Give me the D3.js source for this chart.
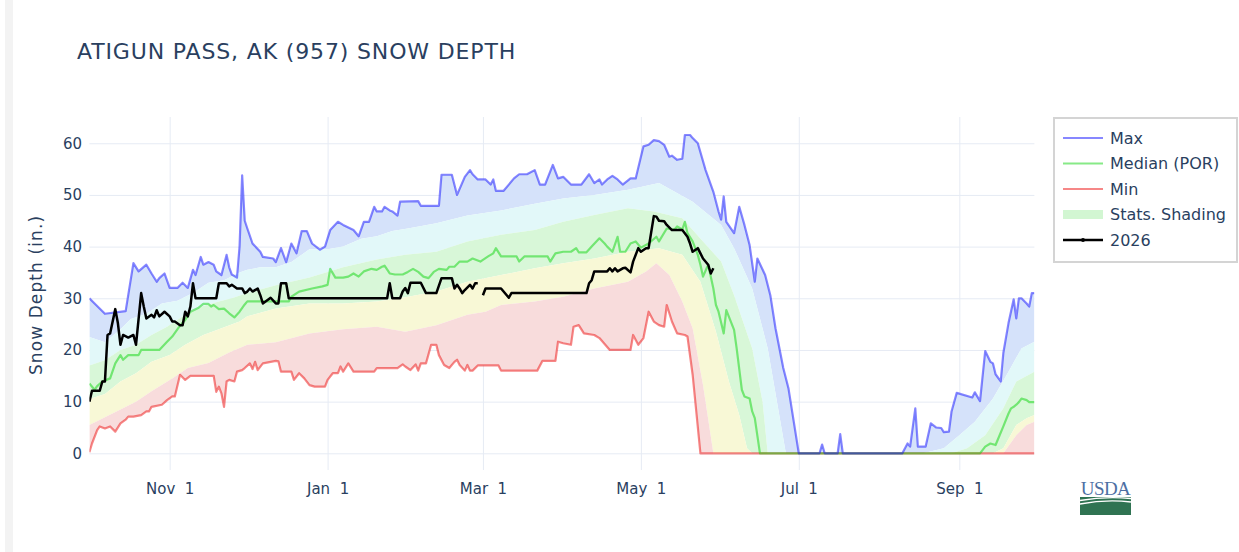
<!DOCTYPE html>
<html>
<head>
<meta charset="utf-8">
<script src="https://cdn.jsdelivr.net/npm/d3@7"></script>
<style>
  body { margin: 0; background: #fff; }
  svg { display: block; font-family: "DejaVu Sans", Verdana, sans-serif; }
  .tick text { white-space: pre; }
</style>
</head>
<body>
<svg id="chart" width="1239" height="552"></svg>
<script>
// [day of water year (0 = Oct 1), snow depth in inches]
var maxDepth = [[0,30],[2,29],[6,27],[14,27.5],[17,36.8],[19,35.2],[22,36.5],[24,34.8],[26,33.2],[27,33.9],[29,34.8],[31,32],[34,32],[36,33],[38,32],[40,35.5],[41,34.5],[43,38],[44,36.5],[46,37],[48,36.5],[49,35.2],[51,34.5],[53,38.4],[54,36],[55,34.6],[57,34],[58,40],[59,53.8],[60,45],[61,43.5],[63,40.6],[66,39],[67,38],[71,37.7],[72,37],[74,39.7],[76,37],[78,40.6],[80,38.7],[82,43],[84,43],[86,40.6],[89,39.4],[91,40],[93,43.2],[96,44.8],[98,44.2],[102,43.2],[104,42],[106,44.8],[108,44.8],[110,47.7],[111,46.8],[113,46.8],[114,47.7],[116,47],[117,46.8],[119,46],[120,48.7],[127,48.8],[128,47.9],[135,47.9],[136,53.9],[140,53.9],[142,50],[145,53.5],[147,54.8],[148,54],[150,53],[153,53],[155,52],[156,53],[157,50.8],[160,50.8],[162,52],[164,53.2],[166,54],[169,54],[172,54.8],[174,52],[176,52],[179,55.8],[181,53.2],[183,53.5],[186,52],[190,52],[193,54],[195,52.3],[197,53],[198,52],[200,53],[202,53.7],[204,53],[206,52],[209,53.2],[211,53.2],[214,59.4],[216,59.7],[218,60.6],[220,60.4],[222,59.7],[224,57.4],[225,57.6],[227,56.8],[229,57],[230,61.6],[232,61.6],[233,61],[235,60],[238,54.8],[241,50.6],[243,46.8],[244,45.2],[245,49.7],[246,44.8],[249,42.6],[251,47.7],[253,44.2],[255,40.3],[257,33.2],[258,37.7],[261,34.5],[263,30.6],[265,24.2],[268,16.5],[270,12.6],[274,0],[282,0],[283,1.7],[284,0],[289,0],[290,3.7],[291,0],[314,0],[316,1.9],[317,1.3],[319,8.7],[320,1.3],[323,1.3],[325,5.8],[327,5],[329,4.9],[330,4.1],[332,4.2],[333,8.1],[335,11.7],[341,10.8],[342,11.8],[344,10.1],[346,19.8],[348,17.7],[349,17.4],[350,15.3],[352,13.9],[353,19.4],[355,25.2],[357,29.8],[358,26.1],[359,30],[360,30],[362,29],[363,28.4],[364,31],[365,31]];

var pct90 = [[0,22.5],[6,21.5],[12,24],[16,26],[22,27],[28,29],[34,29.5],[40,31],[46,33],[52,33.5],[58,35],[61,35.5],[66,36],[72,36],[78,37],[85,39.5],[92,39.5],[98,40],[105,41.5],[111,42],[117,43],[123,43.5],[134,44.5],[146,46],[159,47],[172,48.3],[183,49.3],[195,50],[208,51],[220,52.3],[233,48.7],[244,44.2],[249,39.7],[256,31.9],[262,20.3],[266,8.7],[269,0],[322,0],[330,1],[336,3.5],[342,6.1],[349,10.6],[355,15.8],[360,20.3],[365,21.6]];

var pct70 = [[0,17],[6,18],[12,20],[18,21],[24,22.9],[30,24.5],[37,26.8],[44,28.5],[50,29.4],[55,30],[61,31],[72,32.5],[85,34],[98,36],[111,37.5],[122,38.4],[134,39],[146,41],[159,42.3],[172,43.2],[183,44.8],[195,46.1],[208,47.4],[218,46.8],[229,45.5],[237,41],[244,37.1],[249,30.6],[256,20.3],[260,10],[262,0],[333,0],[339,1],[346,3.5],[353,8.7],[358,13.9],[365,15.8]];

var medianDepth = [[0,13.5],[2,12.3],[3,13],[5,13.9],[8,14.5],[10,17.4],[12,19],[13,18.1],[15,19],[19,19],[20,20],[27,20],[30,21.6],[32,22.6],[35,24.7],[37,25.8],[39,27.4],[42,28.1],[44,28.9],[46,28.9],[47,28.4],[48,28.7],[50,27.9],[52,28],[54,27.1],[56,26.3],[58,27.4],[60,28.8],[61,29.4],[77,29.4],[78,30.3],[81,31.3],[86,31.9],[90,32.3],[92,32.6],[93,35.7],[95,34],[98,34],[100,34.2],[102,34.8],[104,34.2],[106,35.2],[109,35.7],[111,35.5],[113,36.1],[114,36.3],[116,34.8],[118,34.6],[121,34.6],[123,35.1],[125,35.7],[127,35.1],[129,34.2],[131,33.9],[133,35.1],[135,35.7],[138,35.5],[139,36.1],[141,36.1],[143,37.1],[146,37.1],[148,37.7],[151,37.1],[154,38.1],[156,38.7],[157,39.7],[159,38.1],[165,38.1],[166,37.1],[168,38.1],[177,38.1],[178,37.1],[180,38.7],[183,39],[186,39],[188,39.7],[189,38.9],[192,38.9],[194,40],[197,41.6],[199,40.6],[200,40],[202,39],[204,41.9],[205,39],[207,39],[209,40.6],[211,41],[213,39.8],[216,40.6],[219,41.9],[220,41],[223,43.5],[226,43.3],[227,43.9],[229,43.3],[230,44.8],[231,42.6],[233,41],[235,38.4],[236,36.5],[237,34.2],[239,36.5],[241,31.9],[242,28.7],[243,27.4],[245,23.2],[246,27.7],[249,23.9],[250,20.3],[252,12.3],[253,11],[255,10.6],[256,8.1],[257,6.8],[259,0],[344,0],[346,1.3],[348,1.9],[350,1.6],[353,5.2],[355,7.7],[356,8.7],[357,9],[358,9.4],[359,9.9],[360,10.6],[362,10.3],[363,9.9],[365,9.9]];

var pct30 = [[0,10.5],[6,11.5],[12,13.9],[18,15.5],[24,17.7],[31,19],[37,21],[44,22.9],[50,24],[58,25.5],[61,26.5],[72,28],[85,29],[98,29],[111,29.4],[122,30.2],[134,31.3],[146,33.2],[159,34.5],[172,35.8],[183,36.8],[195,37.7],[208,39],[220,39.7],[229,38.4],[236,33.2],[242,23.5],[247,13.9],[251,7.4],[254,1],[256,0],[349,0],[353,1],[358,5.5],[362,6.8],[365,7.4]];

var pct10 = [[0,5.5],[6,7],[12,8.5],[18,10],[24,12],[32,14.5],[38,16.5],[46,17.5],[54,19.5],[61,21],[72,21.5],[85,23.2],[98,24],[111,24.5],[122,23.5],[134,24.8],[146,26.8],[153,27.4],[159,28.7],[172,29.4],[183,30.3],[195,31.9],[208,33.2],[215,35.2],[219,36.8],[224,34.5],[229,29.4],[233,24.2],[237,13.2],[241,0],[353,0],[358,3.5],[362,5.5],[365,6.1]];

var minDepth = [[0,0.2],[1,1.9],[3,4.5],[4,5.2],[6,4.8],[8,5.2],[10,4.2],[12,5.8],[14,6.5],[15,7.1],[17,7.1],[20,7.4],[22,8.1],[23,8.1],[24,9],[28,9.4],[30,10.3],[32,11],[33,11],[35,15.2],[37,14.2],[39,15],[48,15],[49,11.9],[50,12.9],[51,11.6],[52,9],[53,13.9],[54,14.2],[56,13.9],[57,15.8],[59,16.1],[60,16.5],[62,17.4],[63,16.3],[64,17.7],[65,16.1],[67,17.4],[72,17.9],[73,17.8],[74,15.8],[78,15.8],[79,14.2],[81,15.5],[83,14.5],[85,13.2],[87,12.9],[91,12.9],[92,14.2],[94,15.5],[96,15.5],[97,16.8],[98,15.8],[100,17.4],[102,15.8],[110,15.8],[111,16.5],[119,16.5],[121,17.2],[122,16.8],[124,16.1],[126,17.2],[127,16],[128,17.4],[130,17.4],[132,21],[134,21],[135,19],[137,17.1],[139,16.5],[141,17.7],[142,18.1],[143,17.1],[145,16],[146,17.1],[147,16],[148,16],[150,17],[158,17],[159,16],[173,16],[175,17.9],[180,17.9],[181,21.6],[183,21.3],[186,21],[187,24.5],[189,24.8],[191,23.2],[195,22.9],[197,22.3],[201,20],[209,20],[210,22.9],[212,21],[214,22.3],[216,27.4],[218,25.5],[220,24.8],[222,24.5],[223,28.7],[225,25.5],[227,23.2],[230,22.9],[231,22.6],[233,15.2],[236,0],[365,0]];

// water year 2026; no Feb 29 that year (day 151), so the line breaks there
var depth2026 = [[0,10],[1,12.1],[4,12.1],[5,13.9],[6,13.9],[7,22.9],[8,23.2],[10,27.9],[11,25.2],[12,21],[13,22.9],[15,22.4],[17,22.9],[18,21],[20,31],[21,28.4],[22,26.1],[24,26.8],[25,26.3],[26,27.7],[27,26.5],[29,27.4],[31,26.5],[32,25.5],[33,25.5],[35,24.8],[36,24.8],[37,27.4],[38,26.5],[39,28.4],[40,32.9],[41,30],[49,30],[50,32.9],[53,32.9],[54,32.3],[55,32.6],[57,31.9],[59,31.9],[60,31],[61,31.3],[62,31.9],[63,31.3],[65,31.9],[66,30.6],[67,29],[70,30.1],[72,29],[73,29],[74,32.9],[76,32.9],[77,30],[115,30],[116,32.9],[117,30],[120,30],[121,31.3],[122,32],[123,31],[124,33],[128,33],[130,31],[134,31],[136,33.9],[140,33.9],[141,31.9],[142,32.6],[143,31.9],[144,31],[145,31.6],[147,32.6],[148,31.9],[149,32.9],[150,32.9],[151,null],[152,30.6],[153,31.9],[159,31.9],[162,30.1],[163,31],[192,31],[193,32.9],[194,33.5],[195,35.2],[200,35.2],[201,35.8],[202,35.2],[203,35.8],[204,35.2],[206,35.8],[207,35.9],[209,35],[210,37.1],[212,39.7],[213,39],[215,39.7],[216,39.7],[218,45.9],[219,45.8],[220,45],[222,44.9],[223,44.2],[225,43.2],[229,43.2],[231,41.9],[232,40.6],[233,39],[235,39.7],[237,37.7],[239,36.5],[240,34.8],[241,35.8]];

var depthTicks = [0, 10, 20, 30, 40, 50, 60];
var legendLabels = ['Max', 'Median (POR)', 'Min', 'Stats. Shading', '2026'];

var textColor = '#2a3f5f';
var gridColor = '#e6ebf4';

var svg = d3.select('#chart');
var wyStart = new Date(1999, 9, 1); // a leap water year, as the source chart uses
var plotL = 89.4, plotR = 1034.4, plotT = 117, plotB = 470;

var x = d3.scaleTime()
  .domain([wyStart, d3.timeDay.offset(wyStart, 365)])
  .range([plotL, plotR]);
var y = d3.scaleLinear().domain([-3.23, 65.08]).range([plotB, plotT]);

function px(p) { return x(d3.timeDay.offset(wyStart, p[0])); }
function py(p) { return y(p[1]); }

// left grey strip of the page
svg.append('rect').attr('x', 5).attr('y', 0).attr('width', 8).attr('height', 552).attr('fill', '#f3f3f3');

// title
svg.append('text')
  .attr('x', 77).attr('y', 59.3)
  .attr('fill', textColor)
  .style('font-size', '22px')
  .style('letter-spacing', '0.85px')
  .text('ATIGUN PASS, AK (957) SNOW DEPTH');

// grid + axes
var yAxis = d3.axisLeft(y).tickValues(depthTicks).tickSize(-(plotR - plotL)).tickPadding(7.4);
var gy = svg.append('g').attr('transform', 'translate(' + plotL + ',0)').call(yAxis);

var xAxis = d3.axisBottom(x)
  .ticks(d3.timeMonth.every(2))
  .tickFormat(d3.timeFormat('%b %e'))
  .tickSize(-(plotB - plotT))
  .tickPadding(13);
var gx = svg.append('g').attr('transform', 'translate(0,' + plotB + ')').call(xAxis);

[gx, gy].forEach(function(g) {
  g.select('.domain').remove();
  g.selectAll('.tick line').attr('stroke', gridColor).attr('stroke-width', 1);
  g.selectAll('.tick text')
    .attr('fill', textColor)
    .style('font-size', '15px')
    .style('font-family', '"DejaVu Sans", Verdana, sans-serif');
});

svg.append('text')
  .attr('transform', 'translate(41.5,295) rotate(-90)')
  .attr('text-anchor', 'middle')
  .attr('fill', textColor)
  .style('font-size', '17px')
  .style('letter-spacing', '1.1px')
  .text('Snow Depth (in.)');

// plot layer
svg.append('clipPath').attr('id', 'plotclip')
  .append('rect').attr('x', plotL).attr('y', plotT).attr('width', plotR - plotL).attr('height', plotB - plotT);
var plot = svg.append('g').attr('clip-path', 'url(#plotclip)');

function bandPath(upper, lower) {
  var pts = upper.map(function(p) { return [px(p), py(p)]; })
    .concat(lower.slice().reverse().map(function(p) { return [px(p), py(p)]; }));
  return d3.line()(pts) + 'Z';
}

var bands = [
  {upper: maxDepth, lower: pct90, fill: '#d5e2fa'},
  {upper: pct90, lower: pct70, fill: '#e2f8f9'},
  {upper: pct70, lower: pct30, fill: '#d8f7d8'},
  {upper: pct30, lower: pct10, fill: '#f8f8d6'},
  {upper: pct10, lower: minDepth, fill: '#f8dcdc'}
];
plot.selectAll('path.band')
  .data(bands)
  .enter().append('path')
  .attr('class', 'band')
  .attr('d', function(b) { return bandPath(b.upper, b.lower); })
  .attr('fill', function(b) { return b.fill; });

var line = d3.line().x(px).y(py).defined(function(p) { return p[1] != null; });

var statLines = [
  {data: minDepth, color: 'rgb(235,0,0)'},
  {data: medianDepth, color: 'rgb(0,210,0)'},
  {data: maxDepth, color: 'rgb(0,0,255)'}
];
plot.selectAll('path.stat')
  .data(statLines)
  .enter().append('path')
  .attr('class', 'stat')
  .attr('d', function(s) { return line(s.data); })
  .attr('fill', 'none')
  .attr('stroke', function(s) { return s.color; })
  .attr('stroke-opacity', 0.47)
  .attr('stroke-width', 2.2)
  .attr('stroke-linejoin', 'round');

plot.append('path')
  .attr('d', line(depth2026))
  .attr('fill', 'none')
  .attr('stroke', '#000')
  .attr('stroke-width', 2.5)
  .attr('stroke-linejoin', 'round');

// legend
var legend = svg.append('g').attr('transform', 'translate(1053,117)');
legend.append('rect')
  .attr('x', 1).attr('y', 1).attr('width', 183).attr('height', 144)
  .attr('fill', '#fff').attr('stroke', '#d4d4d4').attr('stroke-width', 2);

var legendStyles = [
  {color: 'rgb(0,0,255)', opacity: 0.47, type: 'line'},
  {color: 'rgb(0,210,0)', opacity: 0.47, type: 'line'},
  {color: 'rgb(235,0,0)', opacity: 0.47, type: 'line'},
  {color: '#d2f6d2', opacity: 1, type: 'band'},
  {color: '#000', opacity: 1, type: 'marker'}
];
var items = legend.selectAll('g.item')
  .data(legendLabels)
  .enter().append('g')
  .attr('class', 'item')
  .attr('transform', function(d, i) { return 'translate(0,' + (21 + i * 25.5) + ')'; });

items.each(function(d, i) {
  var g = d3.select(this);
  var st = legendStyles[i];
  if (st.type == 'band') {
    g.append('rect').attr('x', 10).attr('y', -4.5).attr('width', 40).attr('height', 9).attr('fill', st.color);
  } else {
    g.append('line').attr('x1', 10).attr('x2', 50).attr('y1', 0).attr('y2', 0)
      .attr('stroke', st.color).attr('stroke-opacity', st.opacity)
      .attr('stroke-width', st.type == 'marker' ? 2.6 : 2.2);
    if (st.type == 'marker') {
      g.append('circle').attr('cx', 30).attr('cy', 0).attr('r', 2).attr('fill', '#000');
    }
  }
  g.append('text')
    .attr('x', 57).attr('y', 5.6)
    .attr('fill', textColor)
    .style('font-size', '16px')
    .text(d);
});

// USDA mark
var logo = svg.append('g').attr('transform', 'translate(1080,480)');
logo.append('text')
  .attr('x', 25.5).attr('y', 15)
  .attr('text-anchor', 'middle')
  .attr('fill', '#4d6fa3')
  .style('font-family', '"Liberation Serif", "DejaVu Serif", serif')
  .style('font-size', '19px')
  .style('letter-spacing', '-0.6px')
  .text('USDA');
logo.append('rect').attr('x', 0).attr('y', 17).attr('width', 51).attr('height', 18).attr('fill', '#2f7352');
logo.append('path').attr('d', 'M0,20.5 Q25,16 51,18.5').attr('fill', 'none').attr('stroke', '#fff').attr('stroke-width', 1.4);
logo.append('path').attr('d', 'M0,24 Q26,19 51,22').attr('fill', 'none').attr('stroke', '#fff').attr('stroke-width', 1.4);
</script>
</body>
</html>
